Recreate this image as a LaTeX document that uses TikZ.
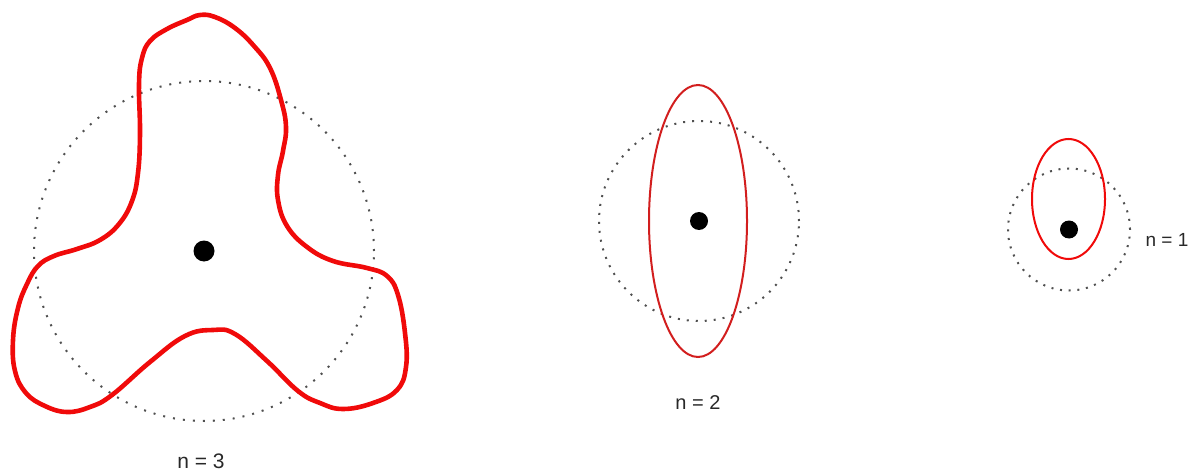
\documentclass[tikz,border=0pt]{standalone}
\usepackage{fontspec}
\setmainfont{Liberation Sans}
\definecolor{dotgray}{RGB}{80,80,80}
\definecolor{curvered}{RGB}{240,10,10}
\definecolor{ellred}{RGB}{210,30,30}
\definecolor{txtgray}{RGB}{40,40,40}
\begin{document}
\begin{tikzpicture}[x=1pt,y=-1pt,
  dotcircle/.style={draw=dotgray,line width=2pt,line cap=butt},
  centerdot/.style={circle,fill=black,inner sep=0pt},
  orbit/.style={draw=curvered,line width=2pt},
  lbl/.style={text=txtgray,inner sep=0pt,anchor=center}]
\useasboundingbox (0,0) rectangle (1196,473);
% ---- n = 3 ----
\coordinate (c3) at (204,251);
\draw[dotcircle,dash pattern=on 2pt off 8pt] (c3) circle (170pt);
\draw[draw=curvered,line width=4.6pt,line join=round] plot[smooth cycle,tension=0.7] coordinates {
 (200,15) (215,17) (235,28) (254,46) (270,68) (281,100) (286,127) (283,151)
 (278,175) (278,200) (287,226) (307,247) (333,261) (367,268) (387,276)
 (398,295) (405,333) (406,367) (397,390) (373,403) (343,409) (320,403)
 (298,391) (267,361) (235,334) (213,330) (185,336) (150,362) (112,395)
 (90,407) (67,412) (45,406) (26,393) (15,371) (13,340) (18,308) (27,284)
 (38,266) (54,256) (77,249) (100,240) (119,224) (132,201) (138,173)
 (140,133) (139,84) (142,58) (150,41) (167,29) (187,20)};
\node[centerdot,minimum size=21pt] (d3) at (c3) {};
\node[lbl,font=\fontsize{21}{23}\selectfont] (l3) at (201,461) {n = 3};
% ---- n = 2 ----
\coordinate (c2) at (699,221);
\draw[dotcircle,dash pattern=on 2pt off 7pt] (c2) circle (100pt);
\draw[orbit,draw=ellred] (698,221) ellipse [x radius=49pt,y radius=136pt];
\node[centerdot,minimum size=18pt] (d2) at (c2) {};
\node[lbl,font=\fontsize{20}{22}\selectfont] (l2) at (698,403) {n = 2};
% ---- n = 1 ----
\coordinate (c1) at (1069,229.5);
\draw[dotcircle,dash pattern=on 2pt off 6.7pt] (c1) circle (61pt);
\draw[orbit] (1068.5,199) ellipse [x radius=36.5pt,y radius=60pt];
\node[centerdot,minimum size=18pt] (d1) at (c1) {};
\node[lbl,font=\fontsize{19}{21}\selectfont] (l1) at (1167,239.5) {n = 1};
\end{tikzpicture}
\end{document}
